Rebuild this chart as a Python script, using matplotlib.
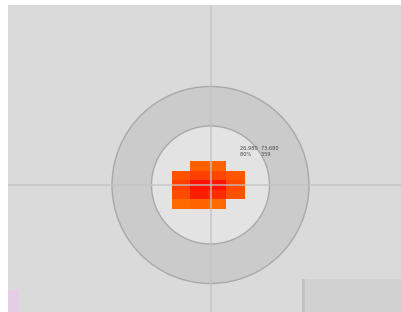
import numpy as np
import matplotlib
matplotlib.use("Agg")
import matplotlib.pyplot as plt
from matplotlib.patches import Circle, Rectangle
from matplotlib.colors import LinearSegmentedColormap

# heatmap grid (data units, centre of target = 0,0)
x_edges = [-39, -20.75, -2.5, 15.75, 34]
y_edges = [-24, -14.4, -4.8, 4.8, 14.4, 24]
# rows bottom -> top, intensity 0 (orange) .. 1 (red)
values = [
    [0.48, 0.52, 0.48, np.nan],
    [0.70, 0.92, 0.85, 0.64],
    [0.75, 0.97, 0.95, 0.70],
    [0.64, 0.75, 0.72, 0.62],
    [np.nan, 0.55, 0.52, np.nan],
]
outer_radius = 98.5
inner_radius = 59
label_lines = ["26,980  73,680", "80%      359"]

W, H = 401, 312
fig = plt.figure(figsize=(W / 100, H / 100), dpi=100)
fig.patch.set_facecolor("white")
# axes covering gray panel: px x 8..401, y 5..312
ax = fig.add_axes([8 / W, 0, (W - 8) / W, (H - 5) / H])
ax.set_facecolor("#dadada")
cx, cy = 210.5, 185
ax.set_xlim(8 - cx, W - cx)
ax.set_ylim(cy - H, cy - 5)
ax.set_aspect("auto")
ax.axis("off")
ax.add_patch(Rectangle((8 - cx, cy - H), W - 8, H - 5, color="#dadada", zorder=0))

ax.add_patch(Circle((0, 0), outer_radius, facecolor="#cbcbcb", edgecolor="#a9a9a9", lw=1.0, zorder=1))
ax.add_patch(Circle((0, 0), inner_radius, facecolor="#e3e3e3", edgecolor="#a9a9a9", lw=1.0, zorder=2))

cmap = LinearSegmentedColormap.from_list("or", ["#ff7400", "#ff4a00", "#ff0c00"])
vals = np.ma.masked_invalid(np.array(values, dtype=float))
ax.pcolormesh(x_edges, y_edges, vals, cmap=cmap, vmin=0.4, vmax=1.0, zorder=3, shading="flat")

ax.axvline(0, color="#c2c2c2", lw=1.2, alpha=0.8, zorder=4)
ax.axhline(0, color="#c2c2c2", lw=1.2, alpha=0.8, zorder=4)

ax.text(29, 37, label_lines[0], fontsize=3.6, color="#444444", zorder=5, va="center")
ax.text(29, 31, label_lines[1], fontsize=3.6, color="#444444", zorder=5, va="center")

# bottom decorations
ax.add_patch(Rectangle((8 - cx, cy - H), 11, 22, facecolor="#e6cde6", edgecolor="none", zorder=5))
ax.add_patch(Rectangle((303 - cx, cy - H), W - 303, H - 279, facecolor="#d1d1d1", edgecolor="none", zorder=5))
ax.add_patch(Rectangle((302 - cx, cy - H), 3, H - 279, facecolor="#c3c3c3", edgecolor="none", zorder=6))

fig.savefig("out.png", dpi=100)
